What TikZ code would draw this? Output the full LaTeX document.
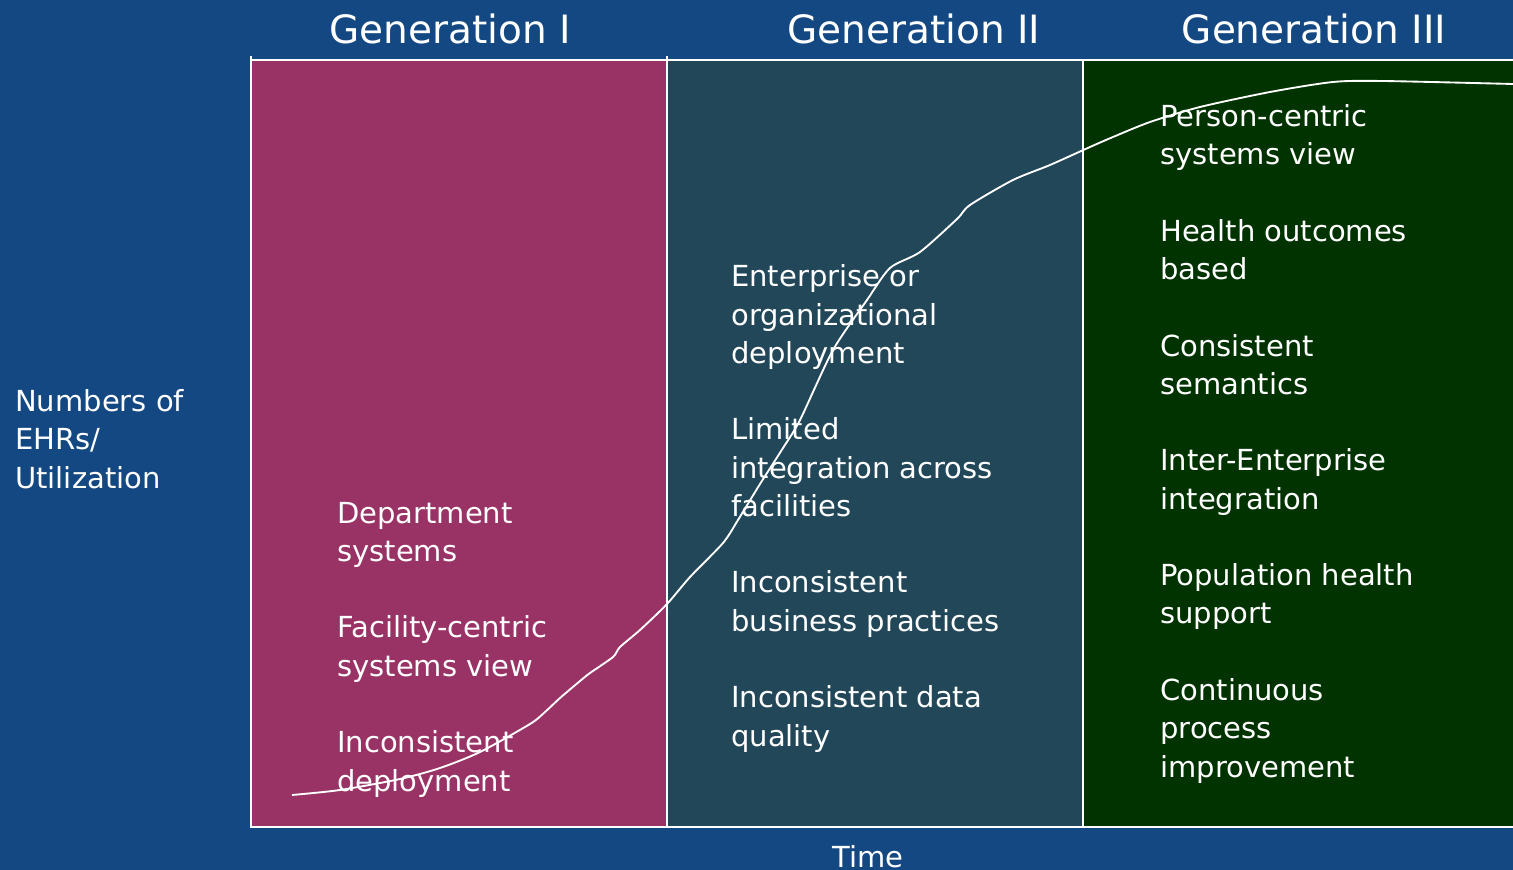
\documentclass[tikz,border=0pt]{standalone}
\usepackage{fontspec}
\setmainfont{DejaVu Sans}
\usepackage{tikz}
\usetikzlibrary{positioning}

\definecolor{slideblue}{HTML}{144882}
\definecolor{genone}{HTML}{993366}
\definecolor{gentwo}{HTML}{224759}
\definecolor{genthree}{HTML}{003300}

\begin{document}
\begin{tikzpicture}[
    x=0.75pt, y=-0.75pt,
    frame/.style={draw=white, line width=1.6pt},
    heading/.style={font=\fontsize{29.25pt}{35pt}\selectfont, text=white, inner sep=0, anchor=base},
    item/.style={font=\fontsize{21.75pt}{28.7pt}\selectfont, text=white, align=left, inner sep=0, anchor=base west},
    growth/.style={draw=white, line width=1.4pt}
]
    % background
    \fill[slideblue] (0,0) rectangle (1513,870);
    \useasboundingbox (0,0) rectangle (1513,870);

    % the three generations
    \fill[genone] (251,60) rectangle (667,827);
    \fill[gentwo] (667,60) rectangle (1083,827);
    \fill[genthree] (1083,60) rectangle (1513,827);

    % frame
    \draw[frame] (1513,60) -- (251,60);
    \draw[frame] (251,56) -- (251,827) -- (1513,827);
    \draw[frame] (667,56) -- (667,827);
    \draw[frame] (1083,60) -- (1083,827);

    % headings
    \node[heading] (headone) at (450,44) {Generation I};
    \node[heading] (headtwo) at (914,44) {Generation II};
    \node[heading] (headthree) at (1314,44) {Generation III};

    % axes (base sits on the last line)
    \node[item] (yaxis) at (15,488) {Numbers of\\EHRs/\\Utilization};
    \node[item, anchor=base] (xaxis) at (868,867) {Time};

    % characteristics
    \node[item] (itemsone) at (337,791) {Department\\systems\\ \\Facility-centric\\systems view\\ \\Inconsistent\\deployment};
    \node[item] (itemstwo) at (731,746) {Enterprise or\\organizational\\deployment\\ \\Limited\\integration across\\facilities\\ \\Inconsistent\\business practices\\ \\Inconsistent data\\quality};
    \node[item] (itemsthree) at (1160,777) {Person-centric\\systems view\\ \\Health outcomes\\based\\ \\Consistent\\semantics\\ \\Inter-Enterprise\\integration\\ \\Population health\\support\\ \\Continuous\\process\\improvement};

    % adoption curve
    \draw[growth] plot[smooth, tension=0.45] coordinates {
        (292,795) (340,790) (400,779) (440,768) (480,752) (530,724)
        (545,712) (560,698) (580,681) (590,673) (613,657) (620,647)
        (640,630) (667,604) (690,577) (723,543) (738,520) (760,484)
        (783,448) (800,420) (833,350) (867,300) (890,268) (920,252)
        (957,219) (970,205) (1013,180) (1050,165) (1090,147) (1113,137)
        (1150,122) (1200,107) (1270,92) (1333,82) (1383,81) (1513,84)};
\end{tikzpicture}
\end{document}
